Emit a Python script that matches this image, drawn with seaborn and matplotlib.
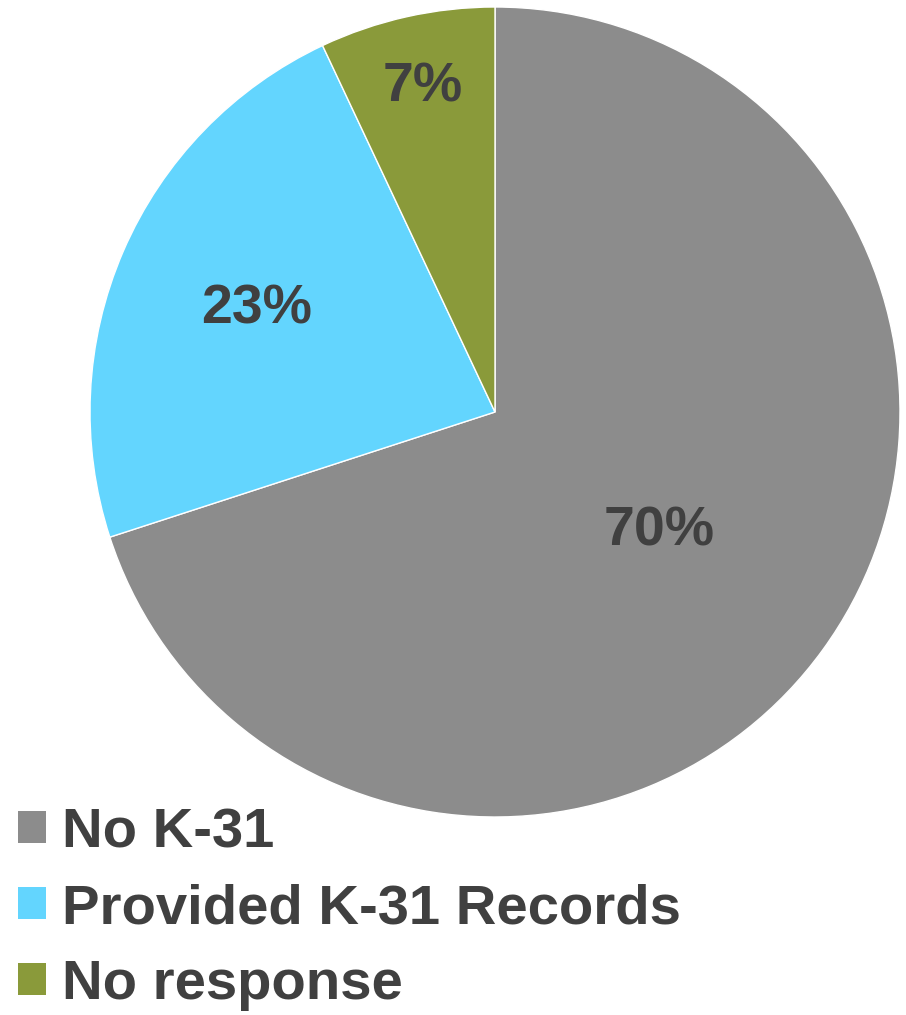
import numpy as np
import matplotlib
matplotlib.use("Agg")
import matplotlib.pyplot as plt
import seaborn as sns
from matplotlib.patches import Patch

# Survey responses (percent)
categories = ["No K-31", "Provided K-31 Records", "No response"]
shares = [70, 23, 7]
colors = ["#8C8C8C", "#63D5FE", "#8A9A3A"]
label_radius = [0.50, 0.64, 0.82]  # where each % label sits, fraction of radius

sns.set_theme(style="white")
plt.rcParams['font.family'] = ['Liberation Sans', 'DejaVu Sans']

W, H = 906, 1015
fig = plt.figure(figsize=(W / 100, H / 100), dpi=100)

# pie centre (495, 412) px, radius 405 px
cx, cy, r = 495, 412, 405
ax = fig.add_axes([(cx - r) / W, (H - cy - r) / H, 2 * r / W, 2 * r / H])

wedges, _ = ax.pie(shares, colors=colors, startangle=90, counterclock=False,
                   wedgeprops=dict(edgecolor="white", linewidth=1))
ax.set_xlim(-1, 1)
ax.set_ylim(-1, 1)
ax.set_aspect("auto")
ax.axis("off")

for w, val, rr in zip(wedges, shares, label_radius):
    mid = np.deg2rad((w.theta1 + w.theta2) / 2)
    ax.text(rr * np.cos(mid), rr * np.sin(mid), f"{val}%", ha="center", va="center",
            fontsize=40, fontweight="bold", color="#404040")

handles = [Patch(facecolor=c, edgecolor="none") for c in colors]
fig.legend(handles, categories, loc="upper left", bbox_to_anchor=(18 / W, 1 - 807 / H),
           frameon=False, borderpad=0, borderaxespad=0,
           handlelength=0.5, handleheight=0.5, handletextpad=0.28, labelspacing=0.43,
           prop=dict(size=40.5, weight="bold"), labelcolor="#404040")

fig.savefig("out.png", dpi=100)
